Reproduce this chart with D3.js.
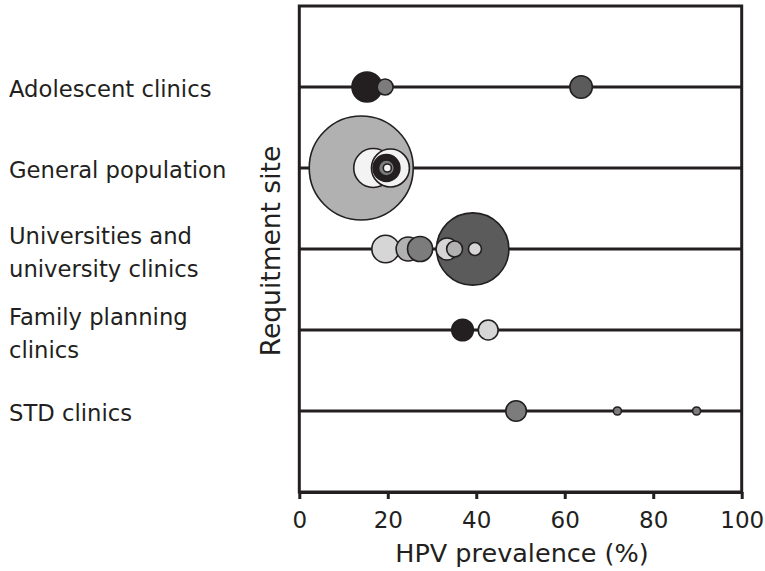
<!DOCTYPE html>
<html>
<head>
<meta charset="utf-8">
<script src="https://cdn.jsdelivr.net/npm/d3@7"></script>
<style>
  html, body { margin: 0; padding: 0; background: #fff; }
  svg { display: block; font-family: "DejaVu Sans", sans-serif; }
</style>
</head>
<body>
<svg id="chart" width="765" height="571"></svg>
<script>
// Recruitment sites, top to bottom (multi-line labels as arrays)
const siteLabels = [
  ["Adolescent clinics"],
  ["General population"],
  ["Universities and", "university clinics"],
  ["Family planning", "clinics"],
  ["STD clinics"]
];

// One entry per study, listed in drawing order
const studySite       = [0, 0, 0,   1, 1, 1, 1, 1, 1,   2, 2, 2, 2, 2, 2, 2,   3, 3,   4, 4, 4];
const studyPrevalence = [15.3, 19.4, 63.7,
                         14.0, 16.7, 20.6, 19.7, 19.7, 19.9,
                         39.2, 19.5, 24.6, 27.3, 33.4, 35.1, 39.7,
                         36.9, 42.7,
                         49.0, 71.9, 89.8];
const studySize       = [250, 70, 140,
                         3000, 420, 400, 200, 70, 18,
                         1450, 210, 160, 175, 135, 70, 47,
                         130, 110,
                         118, 18, 18];
const studyGroup      = [0, 2, 1,
                         3, 5, 5, 0, 2, 5,
                         1, 4, 3, 2, 4, 3, 4,
                         0, 4,
                         2, 2, 2];

const xTicks = [0, 20, 40, 60, 80, 100];
const xTitle = "HPV prevalence (%)";
const yTitle = "Requitment site";

const ink = "#231f20";
const svg = d3.select("#chart");

const x = d3.scaleLinear().domain([0, 100]).range([299.3, 741.7]);
const y = d3.scaleLinear().domain([0, siteLabels.length + 1]).range([6, 492]);
const r = d3.scaleSqrt().domain([0, 3000]).range([0, 52]);
const shade = d3.scaleOrdinal()
  .domain([0, 1, 2, 3, 4, 5])
  .range([ink, "#5b5b5b", "#7c7c7c", "#b1b1b1", "#d6d6d6", "#f3f3f3"]);

// Frame
svg.append("rect")
  .attr("x", x(0)).attr("y", y(0))
  .attr("width", x(100) - x(0)).attr("height", y(siteLabels.length + 1) - y(0))
  .attr("fill", "none").attr("stroke", ink).attr("stroke-width", 3);

// Row guide lines
svg.append("g").selectAll("line")
  .data(siteLabels)
  .join("line")
  .attr("x1", x(0)).attr("x2", x(100))
  .attr("y1", (d, i) => y(i + 1)).attr("y2", (d, i) => y(i + 1))
  .attr("stroke", ink).attr("stroke-width", 3);

// Study bubbles
const studies = studyPrevalence.map((p, i) => ({
  site: studySite[i], p, n: studySize[i], g: studyGroup[i]
}));
svg.append("g").selectAll("circle")
  .data(studies)
  .join("circle")
  .attr("cx", d => x(d.p))
  .attr("cy", d => y(d.site + 1))
  .attr("r", d => r(d.n))
  .attr("fill", d => shade(d.g))
  .attr("stroke", ink)
  .attr("stroke-width", 1.6);

// X axis
const xAxis = svg.append("g")
  .attr("transform", `translate(0,${y(siteLabels.length + 1)})`)
  .call(d3.axisBottom(x).tickValues(xTicks).tickSize(7).tickSizeOuter(0));
xAxis.select(".domain").attr("stroke", ink).attr("stroke-width", 3);
xAxis.selectAll(".tick line").attr("stroke", ink).attr("stroke-width", 3);
xAxis.selectAll(".tick text")
  .attr("y", 36).attr("dy", 0)
  .attr("fill", ink)
  .style("font-family", "'DejaVu Sans', sans-serif")
  .style("font-size", "23px");

svg.append("text")
  .attr("x", 522).attr("y", 562)
  .attr("text-anchor", "middle")
  .attr("fill", ink)
  .style("font-size", "25.5px")
  .text(xTitle);

// Y title
svg.append("text")
  .attr("transform", `translate(280,${(y(0) + y(siteLabels.length + 1)) / 2 + 2}) rotate(-90)`)
  .attr("text-anchor", "middle")
  .attr("fill", ink)
  .style("font-size", "26.5px")
  .text(yTitle);

// Site labels
const labels = svg.append("g")
  .selectAll("text")
  .data(siteLabels)
  .join("text")
  .attr("fill", ink)
  .style("font-size", "22.7px");
labels.each(function (lines, i) {
  const cy = y(i + 1);
  const first = lines.length === 1 ? cy + 10 : cy - 5;
  d3.select(this).selectAll("tspan")
    .data(lines)
    .join("tspan")
    .attr("x", 9)
    .attr("y", (d, j) => first + j * 33)
    .text(d => d);
});
</script>
</body>
</html>
